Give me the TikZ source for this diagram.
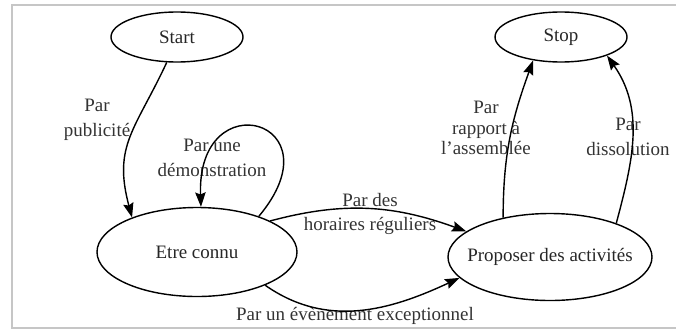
\documentclass[tikz,border=0pt]{standalone}
\usepackage{fontspec}
\setmainfont{Liberation Serif}
\usetikzlibrary{shapes,arrows.meta,positioning,calc}

\begin{document}
\begin{tikzpicture}[
    st/.style={ellipse, draw=black, line width=1pt, inner sep=0pt, text=black!85, font=\fontsize{13.5}{17}\selectfont},
    lbl/.style={align=center, inner sep=0pt, text=black!80, font=\fontsize{13.5}{17.5}\selectfont},
    arr/.style={-{Stealth[length=0.36cm, width=0.26cm, inset=0.05cm]}, line width=1pt, draw=black}
]
    \useasboundingbox (0,0) rectangle (16.9,8.275);
    \draw [gray!45, line width=2pt] (0.3,0.075) rectangle (17.3,8.15);

    \node [st, minimum width=3.3cm, minimum height=1.25cm] (start) at (4.425,7.35) {Start};
    \node [st, minimum width=3.3cm, minimum height=1.25cm] (stop) at (14.025,7.35) {Stop};
    \node [st, minimum width=5cm, minimum height=2.225cm] (connu) at (4.925,1.975) {Etre connu};
    \node [st, minimum width=5.1cm, minimum height=2.175cm, inner xsep=-0.6cm] (activ) at (13.75,1.85) {Proposer des activités};

    \node [lbl] (l1) at (2.425,5.275) {Par\\publicité};
    \node [lbl] (l2) at (5.3,4.325) {Par une\\démonstration};
    \node [lbl] (l3) at (9.25,2.925) {Par des\\horaires réguliers};
    \node [lbl] (l4) at (8.875,0.375) {Par un évènement exceptionnel};
    \node [lbl, font=\fontsize{13.5}{14.5}\selectfont] (l5) at (12.15,5.075) {Par\\rapport à\\l'assemblée};
    \node [lbl] (l6) at (15.7,4.85) {Par\\dissolution};

    \draw [arr] (start.-112) to[out=-115, in=105, looseness=1.2] (connu.152);
    \draw [arr] (connu.30) to[out=50, in=92, looseness=5.5] (connu.85);
    \draw [arr] (connu.23) to[out=15, in=160] (activ.163);
    \draw [arr] (connu.-26) to[out=-35, in=-155] (activ.-167);
    \draw [arr] (activ.140) to[out=90, in=-110] (stop.-140);
    \draw [arr] (activ.27) to[out=75, in=-55] (stop.-22);
\end{tikzpicture}
\end{document}
